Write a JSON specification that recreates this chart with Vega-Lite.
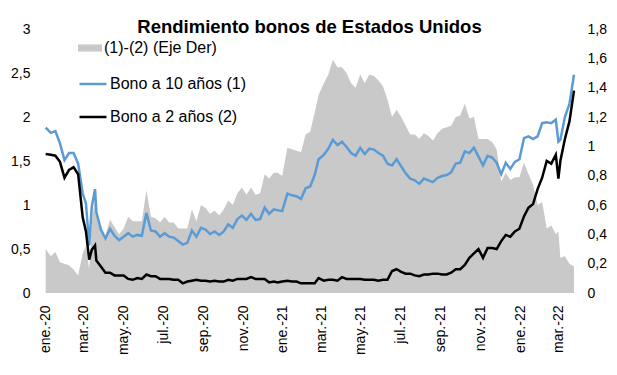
{
  "$schema": "https://vega.github.io/schema/vega-lite/v6.json",
  "width": 529,
  "height": 264,
  "autosize": {"type": "none"},
  "padding": {"left": 45, "top": 29, "right": 43, "bottom": 82},
  "background": "#ffffff",
  "title": {
    "text": "Rendimiento bonos de Estados Unidos",
    "font": "Liberation Sans",
    "fontSize": 18.5,
    "fontWeight": "bold",
    "color": "#000000",
    "anchor": "middle",
    "frame": "group",
    "baseline": "alphabetic",
    "offset": -29
  },
  "config": {
    "view": {"stroke": null},
    "font": "Liberation Sans",
    "locale": {
      "number": {"decimal": ",", "thousands": ".", "grouping": [3], "currency": ["", " €"]},
      "time": {
        "dateTime": "%A, %e de %B de %Y, %X",
        "date": "%d/%m/%Y",
        "time": "%H:%M:%S",
        "periods": ["AM", "PM"],
        "days": ["domingo", "lunes", "martes", "miércoles", "jueves", "viernes", "sábado"],
        "shortDays": ["dom", "lun", "mar", "mié", "jue", "vie", "sáb"],
        "months": ["enero", "febrero", "marzo", "abril", "mayo", "junio", "julio", "agosto", "septiembre", "octubre", "noviembre", "diciembre"],
        "shortMonths": ["ene", "feb", "mar", "abr", "may", "jun", "jul", "ago", "sep", "oct", "nov", "dic"]
      }
    },
    "axis": {
      "grid": false,
      "domain": false,
      "ticks": false,
      "title": null,
      "labelFont": "Liberation Sans",
      "labelFontSize": 14,
      "labelColor": "#000000"
    },
    "legend": {
      "labelFont": "Liberation Sans",
      "labelFontSize": 16,
      "labelColor": "#000000"
    }
  },
  "data": {
    "values": [
      {"d": "2020-01-02", "t10": 1.88, "t2": 1.58, "s": 0.30},
      {"d": "2020-01-10", "t10": 1.82, "t2": 1.57, "s": 0.25},
      {"d": "2020-01-17", "t10": 1.84, "t2": 1.56, "s": 0.28},
      {"d": "2020-01-24", "t10": 1.70, "t2": 1.49, "s": 0.21},
      {"d": "2020-01-31", "t10": 1.51, "t2": 1.31, "s": 0.20},
      {"d": "2020-02-07", "t10": 1.59, "t2": 1.40, "s": 0.19},
      {"d": "2020-02-14", "t10": 1.59, "t2": 1.43, "s": 0.16},
      {"d": "2020-02-21", "t10": 1.47, "t2": 1.35, "s": 0.12},
      {"d": "2020-02-28", "t10": 1.13, "t2": 0.86, "s": 0.27},
      {"d": "2020-03-04", "t10": 1.02, "t2": 0.70, "s": 0.32},
      {"d": "2020-03-09", "t10": 0.54, "t2": 0.38, "s": 0.16},
      {"d": "2020-03-13", "t10": 0.98, "t2": 0.49, "s": 0.49},
      {"d": "2020-03-18", "t10": 1.18, "t2": 0.54, "s": 0.64},
      {"d": "2020-03-20", "t10": 0.92, "t2": 0.37, "s": 0.55},
      {"d": "2020-03-27", "t10": 0.72, "t2": 0.30, "s": 0.42},
      {"d": "2020-04-03", "t10": 0.62, "t2": 0.23, "s": 0.39},
      {"d": "2020-04-10", "t10": 0.73, "t2": 0.23, "s": 0.50},
      {"d": "2020-04-17", "t10": 0.65, "t2": 0.20, "s": 0.45},
      {"d": "2020-04-24", "t10": 0.60, "t2": 0.20, "s": 0.40},
      {"d": "2020-05-01", "t10": 0.64, "t2": 0.20, "s": 0.44},
      {"d": "2020-05-08", "t10": 0.68, "t2": 0.16, "s": 0.52},
      {"d": "2020-05-15", "t10": 0.64, "t2": 0.15, "s": 0.49},
      {"d": "2020-05-22", "t10": 0.66, "t2": 0.17, "s": 0.49},
      {"d": "2020-05-29", "t10": 0.65, "t2": 0.16, "s": 0.49},
      {"d": "2020-06-05", "t10": 0.91, "t2": 0.21, "s": 0.70},
      {"d": "2020-06-12", "t10": 0.71, "t2": 0.19, "s": 0.52},
      {"d": "2020-06-19", "t10": 0.70, "t2": 0.19, "s": 0.51},
      {"d": "2020-06-26", "t10": 0.64, "t2": 0.16, "s": 0.48},
      {"d": "2020-07-03", "t10": 0.68, "t2": 0.16, "s": 0.52},
      {"d": "2020-07-10", "t10": 0.64, "t2": 0.16, "s": 0.48},
      {"d": "2020-07-17", "t10": 0.63, "t2": 0.15, "s": 0.48},
      {"d": "2020-07-24", "t10": 0.59, "t2": 0.15, "s": 0.44},
      {"d": "2020-07-31", "t10": 0.55, "t2": 0.11, "s": 0.44},
      {"d": "2020-08-07", "t10": 0.57, "t2": 0.13, "s": 0.44},
      {"d": "2020-08-14", "t10": 0.71, "t2": 0.14, "s": 0.57},
      {"d": "2020-08-21", "t10": 0.64, "t2": 0.15, "s": 0.49},
      {"d": "2020-08-28", "t10": 0.74, "t2": 0.14, "s": 0.60},
      {"d": "2020-09-04", "t10": 0.72, "t2": 0.14, "s": 0.58},
      {"d": "2020-09-11", "t10": 0.67, "t2": 0.13, "s": 0.54},
      {"d": "2020-09-18", "t10": 0.70, "t2": 0.14, "s": 0.56},
      {"d": "2020-09-25", "t10": 0.66, "t2": 0.13, "s": 0.53},
      {"d": "2020-10-02", "t10": 0.70, "t2": 0.13, "s": 0.57},
      {"d": "2020-10-09", "t10": 0.78, "t2": 0.15, "s": 0.63},
      {"d": "2020-10-16", "t10": 0.74, "t2": 0.14, "s": 0.60},
      {"d": "2020-10-23", "t10": 0.84, "t2": 0.16, "s": 0.68},
      {"d": "2020-10-30", "t10": 0.88, "t2": 0.16, "s": 0.72},
      {"d": "2020-11-06", "t10": 0.83, "t2": 0.16, "s": 0.67},
      {"d": "2020-11-13", "t10": 0.90, "t2": 0.18, "s": 0.72},
      {"d": "2020-11-20", "t10": 0.83, "t2": 0.16, "s": 0.67},
      {"d": "2020-11-27", "t10": 0.84, "t2": 0.16, "s": 0.68},
      {"d": "2020-12-04", "t10": 0.97, "t2": 0.16, "s": 0.81},
      {"d": "2020-12-11", "t10": 0.90, "t2": 0.12, "s": 0.78},
      {"d": "2020-12-18", "t10": 0.95, "t2": 0.13, "s": 0.82},
      {"d": "2020-12-24", "t10": 0.94, "t2": 0.12, "s": 0.82},
      {"d": "2020-12-31", "t10": 0.93, "t2": 0.13, "s": 0.80},
      {"d": "2021-01-08", "t10": 1.13, "t2": 0.14, "s": 0.99},
      {"d": "2021-01-15", "t10": 1.11, "t2": 0.13, "s": 0.98},
      {"d": "2021-01-22", "t10": 1.10, "t2": 0.13, "s": 0.97},
      {"d": "2021-01-29", "t10": 1.07, "t2": 0.11, "s": 0.96},
      {"d": "2021-02-05", "t10": 1.19, "t2": 0.11, "s": 1.08},
      {"d": "2021-02-12", "t10": 1.21, "t2": 0.11, "s": 1.10},
      {"d": "2021-02-19", "t10": 1.34, "t2": 0.11, "s": 1.23},
      {"d": "2021-02-25", "t10": 1.52, "t2": 0.17, "s": 1.35},
      {"d": "2021-03-05", "t10": 1.57, "t2": 0.14, "s": 1.43},
      {"d": "2021-03-12", "t10": 1.64, "t2": 0.15, "s": 1.49},
      {"d": "2021-03-19", "t10": 1.74, "t2": 0.15, "s": 1.59},
      {"d": "2021-03-26", "t10": 1.68, "t2": 0.14, "s": 1.54},
      {"d": "2021-04-02", "t10": 1.72, "t2": 0.18, "s": 1.54},
      {"d": "2021-04-09", "t10": 1.66, "t2": 0.16, "s": 1.50},
      {"d": "2021-04-16", "t10": 1.59, "t2": 0.16, "s": 1.43},
      {"d": "2021-04-23", "t10": 1.56, "t2": 0.16, "s": 1.40},
      {"d": "2021-04-30", "t10": 1.65, "t2": 0.16, "s": 1.49},
      {"d": "2021-05-07", "t10": 1.58, "t2": 0.15, "s": 1.43},
      {"d": "2021-05-14", "t10": 1.64, "t2": 0.15, "s": 1.49},
      {"d": "2021-05-21", "t10": 1.63, "t2": 0.15, "s": 1.48},
      {"d": "2021-05-28", "t10": 1.59, "t2": 0.14, "s": 1.45},
      {"d": "2021-06-04", "t10": 1.56, "t2": 0.15, "s": 1.41},
      {"d": "2021-06-11", "t10": 1.47, "t2": 0.15, "s": 1.32},
      {"d": "2021-06-18", "t10": 1.45, "t2": 0.25, "s": 1.20},
      {"d": "2021-06-25", "t10": 1.52, "t2": 0.27, "s": 1.25},
      {"d": "2021-07-02", "t10": 1.44, "t2": 0.24, "s": 1.20},
      {"d": "2021-07-09", "t10": 1.36, "t2": 0.22, "s": 1.14},
      {"d": "2021-07-16", "t10": 1.30, "t2": 0.22, "s": 1.08},
      {"d": "2021-07-23", "t10": 1.28, "t2": 0.20, "s": 1.08},
      {"d": "2021-07-30", "t10": 1.24, "t2": 0.19, "s": 1.05},
      {"d": "2021-08-06", "t10": 1.30, "t2": 0.21, "s": 1.09},
      {"d": "2021-08-13", "t10": 1.28, "t2": 0.21, "s": 1.07},
      {"d": "2021-08-20", "t10": 1.26, "t2": 0.22, "s": 1.04},
      {"d": "2021-08-27", "t10": 1.31, "t2": 0.22, "s": 1.09},
      {"d": "2021-09-03", "t10": 1.33, "t2": 0.21, "s": 1.12},
      {"d": "2021-09-10", "t10": 1.34, "t2": 0.21, "s": 1.13},
      {"d": "2021-09-17", "t10": 1.37, "t2": 0.23, "s": 1.14},
      {"d": "2021-09-24", "t10": 1.47, "t2": 0.27, "s": 1.20},
      {"d": "2021-10-01", "t10": 1.48, "t2": 0.27, "s": 1.21},
      {"d": "2021-10-08", "t10": 1.61, "t2": 0.32, "s": 1.29},
      {"d": "2021-10-15", "t10": 1.59, "t2": 0.40, "s": 1.19},
      {"d": "2021-10-22", "t10": 1.65, "t2": 0.45, "s": 1.20},
      {"d": "2021-10-29", "t10": 1.55, "t2": 0.50, "s": 1.05},
      {"d": "2021-11-05", "t10": 1.45, "t2": 0.40, "s": 1.05},
      {"d": "2021-11-12", "t10": 1.56, "t2": 0.51, "s": 1.05},
      {"d": "2021-11-19", "t10": 1.54, "t2": 0.51, "s": 1.03},
      {"d": "2021-11-26", "t10": 1.48, "t2": 0.50, "s": 0.98},
      {"d": "2021-12-03", "t10": 1.35, "t2": 0.59, "s": 0.76},
      {"d": "2021-12-10", "t10": 1.48, "t2": 0.66, "s": 0.82},
      {"d": "2021-12-17", "t10": 1.41, "t2": 0.64, "s": 0.77},
      {"d": "2021-12-24", "t10": 1.49, "t2": 0.70, "s": 0.79},
      {"d": "2021-12-31", "t10": 1.52, "t2": 0.73, "s": 0.79},
      {"d": "2022-01-07", "t10": 1.76, "t2": 0.87, "s": 0.89},
      {"d": "2022-01-14", "t10": 1.78, "t2": 0.97, "s": 0.81},
      {"d": "2022-01-21", "t10": 1.75, "t2": 1.01, "s": 0.74},
      {"d": "2022-01-28", "t10": 1.78, "t2": 1.18, "s": 0.60},
      {"d": "2022-02-04", "t10": 1.93, "t2": 1.31, "s": 0.62},
      {"d": "2022-02-11", "t10": 1.94, "t2": 1.50, "s": 0.44},
      {"d": "2022-02-18", "t10": 1.93, "t2": 1.47, "s": 0.46},
      {"d": "2022-02-25", "t10": 1.97, "t2": 1.57, "s": 0.40},
      {"d": "2022-03-01", "t10": 1.72, "t2": 1.30, "s": 0.42},
      {"d": "2022-03-04", "t10": 1.74, "t2": 1.50, "s": 0.24},
      {"d": "2022-03-11", "t10": 2.00, "t2": 1.75, "s": 0.25},
      {"d": "2022-03-18", "t10": 2.15, "t2": 1.95, "s": 0.20},
      {"d": "2022-03-25", "t10": 2.48, "t2": 2.30, "s": 0.18}
    ]
  },
  "layer": [
    {
      "mark": {"type": "area", "color": "#c9c9c9"},
      "encoding": {
        "x": {
          "field": "d",
          "type": "temporal",
          "scale": {"domain": ["2020-01-01", "2022-03-25"]},
          "axis": {
            "format": "%b.-%y",
            "tickCount": {"interval": "month", "step": 2},
            "labelAngle": -90,
            "labelPadding": 12,
            "labelFlush": false,
            "labelOverlap": false
          }
        },
        "y": {
          "field": "s",
          "type": "quantitative",
          "scale": {"domain": [0, 1.8], "nice": false},
          "axis": {
            "orient": "right",
            "values": [0, 0.2, 0.4, 0.6, 0.8, 1, 1.2, 1.4, 1.6, 1.8],
            "format": ".1~f",
            "labelPadding": 13,
            "labelAlign": "left"
          }
        },
        "fill": {
          "datum": "(1)-(2) (Eje Der)",
          "type": "nominal",
          "scale": {"range": ["#c9c9c9"]},
          "legend": {
            "orient": "none",
            "legendX": 33,
            "legendY": 7,
            "title": null,
            "symbolType": "M-1,-0.3H1V0.3H-1Z",
            "symbolSize": 576,
            "symbolStrokeWidth": 0,
            "labelOffset": 2
          }
        }
      }
    },
    {
      "transform": [{"fold": ["t10", "t2"], "as": ["serie", "valor"]}],
      "mark": {"type": "line", "strokeWidth": 2.5},
      "encoding": {
        "x": {
          "field": "d",
          "type": "temporal",
          "scale": {"domain": ["2020-01-01", "2022-03-25"]}
        },
        "y": {
          "field": "valor",
          "type": "quantitative",
          "scale": {"domain": [0, 3], "nice": false},
          "axis": {
            "orient": "left",
            "values": [0, 0.5, 1, 1.5, 2, 2.5, 3],
            "format": ".1~f",
            "labelPadding": 15
          }
        },
        "stroke": {
          "field": "serie",
          "type": "nominal",
          "scale": {"domain": ["t10", "t2"], "range": ["#5b9bd5", "#000000"]},
          "legend": {
            "orient": "none",
            "legendX": 33,
            "legendY": 40,
            "title": null,
            "symbolType": "stroke",
            "symbolSize": 729,
            "symbolStrokeWidth": 2.5,
            "rowPadding": 10,
            "labelOffset": 2,
            "labelExpr": "datum.label == 't10' ? 'Bono a 10 años (1)' : 'Bono a 2 años (2)'"
          }
        }
      }
    }
  ],
  "resolve": {"scale": {"y": "independent"}}
}
